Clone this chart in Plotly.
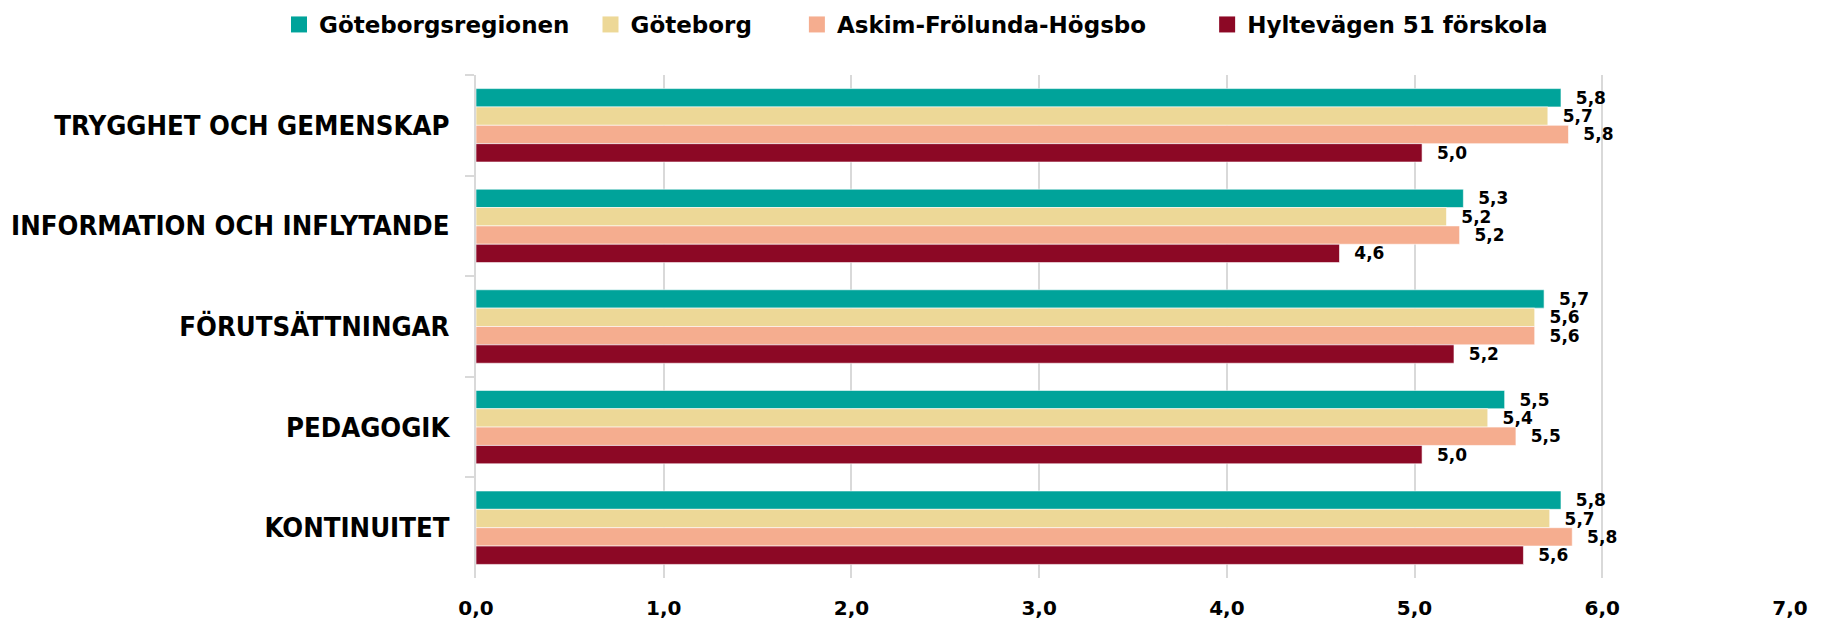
import plotly.graph_objects as go

categories = ["TRYGGHET OCH GEMENSKAP", "INFORMATION OCH INFLYTANDE", "FÖRUTSÄTTNINGAR", "PEDAGOGIK", "KONTINUITET"]
series_names = ["Göteborgsregionen", "Göteborg", "Askim-Frölunda-Högsbo", "Hyltevägen 51 förskola"]
goteborgsregionen = [5.78, 5.26, 5.69, 5.48, 5.78]
goteborg = [5.71, 5.17, 5.64, 5.39, 5.72]
askim = [5.82, 5.24, 5.64, 5.54, 5.84]
hyltevagen = [5.04, 4.60, 5.21, 5.04, 5.58]
series_values = [goteborgsregionen, goteborg, askim, hyltevagen]
colors = ["#00A39A", "#EDD897", "#F5AD8F", "#8C0825"]
x_ticks = [0, 1, 2, 3, 4, 5, 6, 7]
legend_pad = ["\u00a0" * 2, "\u00a0" * 5, "\u00a0" * 7, ""]

def fmt(v):
    return "\u00a0\u00a0" + f"{v:.1f}".replace(".", ",")

W, H = 1821, 612

fig = go.Figure()
for name, vals, col in zip(series_names, series_values, colors):
    fig.add_trace(go.Bar(
        y=categories, x=vals, orientation="h", name=name,
        marker=dict(color=col, line=dict(color="white", width=0.6)),
        text=[fmt(v) for v in vals], textposition="outside",
        constraintext="none", cliponaxis=False,
        textfont=dict(family="DejaVu Sans", size=17, color="#000000", weight="bold"),
        showlegend=False, hoverinfo="skip",
    ))
for name, col, pad in zip(series_names, colors, legend_pad):
    fig.add_trace(go.Scatter(
        x=[None], y=[None], mode="markers", name=name + pad,
        marker=dict(symbol="square", size=16, color=col),
        showlegend=True,
    ))

fig.update_layout(
    width=W, height=H,
    margin=dict(l=468, r=39, t=67, b=42, autoexpand=False),
    paper_bgcolor="white", plot_bgcolor="white",
    barmode="group", bargap=0.27, bargroupgap=0,
    separators=", ",
    legend=dict(orientation="h", xref="container", yref="container",
                x=271 / W, xanchor="left", y=1 - 16.5 / H, yanchor="middle",
                font=dict(family="DejaVu Sans", size=23, color="#000000", weight="bold"),
                bgcolor="rgba(0,0,0,0)"),
    xaxis=dict(range=[0, 7], tickvals=x_ticks, tickformat=".1f",
               showgrid=True, gridcolor="#D9D9D9", gridwidth=1.5,
               zeroline=False, showline=False, ticks="",
               ticklabelstandoff=16, automargin=False,
               tickfont=dict(family="DejaVu Sans", size=20, color="#000000", weight="bold")),
    yaxis=dict(type="category", autorange="reversed",
               showline=True, linecolor="#D9D9D9", linewidth=2,
               ticks="outside", tickson="boundaries", ticklen=9,
               tickcolor="#D9D9D9", tickwidth=2, showgrid=False,
               ticklabelstandoff=19, automargin=False,
               tickfont=dict(family="DejaVu Sans Condensed", size=27.3, color="#000000", weight="bold")),
)

fig.write_html("out.html")
